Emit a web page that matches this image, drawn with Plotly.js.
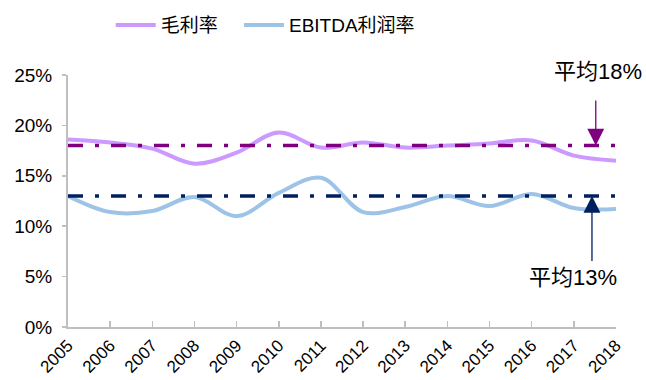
<!DOCTYPE html>
<html>
<head>
<meta charset="utf-8">
<script src="https://cdn.plot.ly/plotly-3.0.1.min.js"></script>
<style>
  html, body { margin: 0; padding: 0; background: #ffffff; }
  #chart { width: 646px; height: 380px; }
</style>
</head>
<body>
<div id="chart"></div>
<script>
// Years on the category axis
var years = ['2005', '2006', '2007', '2008', '2009', '2010', '2011',
             '2012', '2013', '2014', '2015', '2016', '2017', '2018'];

// Gross margin, %
var grossMargin = [18.6, 18.3, 17.7, 16.2, 17.3, 19.3, 17.8,
                   18.3, 17.8, 18.0, 18.2, 18.5, 17.0, 16.5];

// EBITDA margin, %
var ebitdaMargin = [13.0, 11.4, 11.5, 12.9, 11.0, 13.3, 14.8,
                    11.4, 11.9, 13.0, 12.0, 13.2, 11.8, 11.7];

// Period averages, %
var avgGross = 18;
var avgEbitda = 13;

var avgLabels = ['平均18%', '平均13%'];
var seriesNames = ['毛利率', 'EBITDA利润率'];

var latin = '"Liberation Sans", Arial, sans-serif';
var cjk = '"Liberation Sans", "Noto Sans CJK SC", sans-serif';

function flat(v) { return years.map(function () { return v; }); }

var traces = [
  {
    x: years, y: grossMargin, name: seriesNames[0], type: 'scatter', mode: 'lines',
    legend: 'legend',
    line: { color: '#CC99FF', width: 4, shape: 'spline', smoothing: 1 }
  },
  {
    x: years, y: ebitdaMargin, name: seriesNames[1], type: 'scatter', mode: 'lines',
    legend: 'legend2',
    line: { color: '#9DC3E6', width: 4, shape: 'spline', smoothing: 1 }
  },
  {
    x: years, y: flat(avgGross), type: 'scatter', mode: 'lines', showlegend: false,
    hoverinfo: 'skip',
    line: { color: '#7F007F', width: 3.5, dash: '15px,12px,4px,12px' }
  },
  {
    x: years, y: flat(avgEbitda), type: 'scatter', mode: 'lines', showlegend: false,
    hoverinfo: 'skip',
    line: { color: '#002060', width: 3.5, dash: '15px,12px,4px,12px' }
  }
];

// arrow positions, between the last two years
var grossArrowX = 12.52;
var ebitdaArrowX = 12.43;

function legendBox(x) {
  return {
    orientation: 'h', x: x, xanchor: 'left',
    yref: 'container', y: 0.934, yanchor: 'middle',
    font: { family: cjk, size: 19, color: '#000000' },
    bgcolor: 'rgba(0,0,0,0)', itemwidth: 40
  };
}

var layout = {
  width: 646, height: 380,
  margin: { l: 68, r: 30, t: 75, b: 53, autoexpand: false },
  paper_bgcolor: '#ffffff', plot_bgcolor: '#ffffff',
  font: { family: latin, color: '#000000', size: 18 },
  showlegend: true,
  legend: legendBox(0.078),
  legend2: legendBox(0.312),
  xaxis: {
    type: 'category', range: [0, 13], showgrid: false, zeroline: false,
    showline: true, linecolor: '#BFBFBF', linewidth: 2,
    ticks: 'inside', ticklen: 6, tickcolor: '#BFBFBF', tickwidth: 1.5,
    tickangle: -45, tickfont: { family: latin, size: 17, color: '#000000' },
    fixedrange: true
  },
  yaxis: {
    range: [0, 25], dtick: 5, ticksuffix: '%', showgrid: false, zeroline: false,
    showline: true, linecolor: '#BFBFBF', linewidth: 2,
    ticks: 'outside', ticklen: 4, tickcolor: '#BFBFBF', tickwidth: 1.5,
    tickfont: { family: latin, size: 19, color: '#000000' }, ticklabelstandoff: 6,
    fixedrange: true
  },
  annotations: [
    {
      x: grossArrowX, y: avgGross, xref: 'x', yref: 'y', text: ' ',
      font: { size: 1 }, borderpad: 0,
      showarrow: true, arrowhead: 2, arrowsize: 2.6, arrowwidth: 1.3,
      arrowcolor: '#7F007F', ax: 0, ay: -46
    },
    {
      x: ebitdaArrowX, y: avgEbitda, xref: 'x', yref: 'y', text: ' ',
      font: { size: 1 }, borderpad: 0,
      showarrow: true, arrowhead: 2, arrowsize: 2.6, arrowwidth: 1.3,
      arrowcolor: '#002060', ax: 0, ay: 66
    },
    {
      x: 1.0, y: 1.0, xref: 'paper', yref: 'paper', xanchor: 'right', yanchor: 'middle',
      xshift: 28, yshift: 4, text: avgLabels[0], showarrow: false,
      font: { family: cjk, size: 22, color: '#000000' }
    },
    {
      x: 1.0, y: 0.2, xref: 'paper', yref: 'paper', xanchor: 'right', yanchor: 'middle',
      xshift: 3, yshift: -1, text: avgLabels[1], showarrow: false,
      font: { family: cjk, size: 22, color: '#000000' }
    }
  ]
};

Plotly.newPlot('chart', traces, layout, { staticPlot: true, displayModeBar: false });
</script>
</body>
</html>
